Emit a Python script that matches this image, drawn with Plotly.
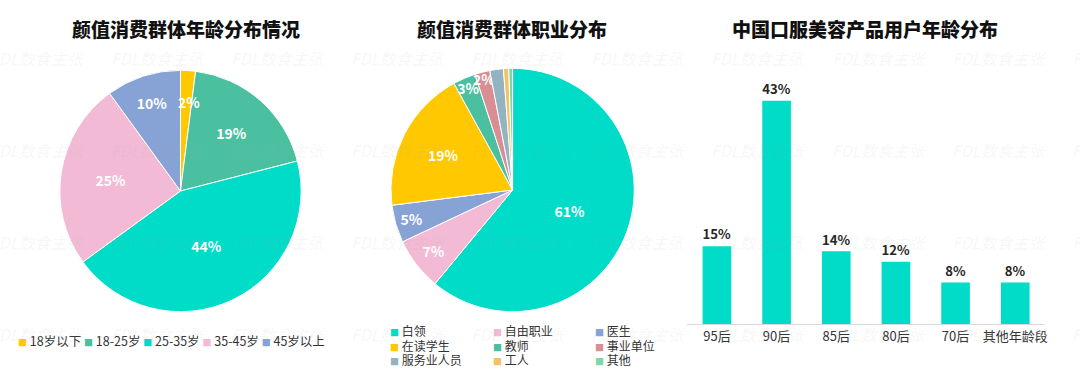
import math
import plotly.graph_objects as go

# ---------------- data ----------------
age_labels = ["18岁以下", "18-25岁", "25-35岁", "35-45岁", "45岁以上"]
age_values = [2, 19, 44, 25, 10]
age_colors = ["#FFC800", "#4BC0A0", "#00DCC8", "#F2BAD4", "#87A3D6"]

job_labels = ["白领", "自由职业", "医生", "在读学生", "教师", "事业单位", "服务业人员", "工人", "其他"]
job_values = [61, 7, 5, 19, 3, 2, 1.8, 0.7, 0.5]
job_colors = ["#00DCC8", "#F2BAD4", "#87A3D6", "#FFC800", "#4BC0A0", "#D98E94", "#93B3C3", "#F3C265", "#7FD6A8"]

user_cats = ["95后", "90后", "85后", "80后", "70后", "其他年龄段"]
user_values = [15, 43, 14, 12, 8, 8]
bar_color = "#00DCC8"

titles = ["颜值消费群体年龄分布情况", "颜值消费群体职业分布", "中国口服美容产品用户年龄分布"]
watermark = "FDL数食主张"

# ---------------- layout helpers ----------------
W, H = 1080, 377
FONT = "Noto Sans CJK SC"


def px(x):
    return x / W


def py(y):
    return 1 - y / H


fig = go.Figure()

# left pie (labels of very thin slices are placed as annotations further inside)
cx, cy, r = 181, 191, 121
age_text = [f"{v}%" if v >= 5 else "" for v in age_values]
fig.add_trace(go.Pie(
    labels=age_labels, values=age_values, sort=False, direction="clockwise", rotation=0,
    marker=dict(colors=age_colors, line=dict(color="white", width=1)),
    text=age_text, textinfo="text", textposition="inside", insidetextorientation="horizontal",
    textfont=dict(family=FONT, size=14, color="white", weight="bold"),
    domain=dict(x=[px(cx - r), px(cx + r)], y=[py(cy + r), py(cy - r)]),
    showlegend=False, hoverinfo="label+percent",
))

# middle pie
cx2, cy2, r2 = 514, 190, 122
job_text = [f"{v:.0f}%" if v >= 2 else "" for v in job_values]
fig.add_trace(go.Pie(
    labels=job_labels, values=job_values, sort=False, direction="clockwise", rotation=0,
    marker=dict(colors=job_colors, line=dict(color="white", width=1)),
    text=job_text, textinfo="text", textposition="inside", insidetextorientation="horizontal",
    textfont=dict(family=FONT, size=14, color="white", weight=600),
    domain=dict(x=[px(cx2 - r2), px(cx2 + r2)], y=[py(cy2 + r2), py(cy2 - r2)]),
    showlegend=False, hoverinfo="label+percent",
))

# bar chart
fig.add_trace(go.Bar(
    x=user_cats, y=user_values, marker=dict(color=bar_color, line=dict(width=0)),
    texttemplate="%{y}%", textposition="outside", cliponaxis=False,
    textfont=dict(family=FONT, size=14, color="#262626", weight="bold"),
    showlegend=False,
))

base_y = 324
unit = 5.19
ymax = 50
fig.update_layout(
    width=W, height=H, margin=dict(l=0, r=0, t=0, b=0),
    paper_bgcolor="white", plot_bgcolor="white",
    font=dict(family=FONT, color="#333333"),
    bargap=0.52,
    uniformtext=dict(minsize=13, mode="show"),
    xaxis=dict(domain=[px(689), px(1048)], showgrid=False, zeroline=False,
               showline=True, linecolor="#D9D9D9", linewidth=1, ticks="",
               tickfont=dict(family=FONT, size=13, color="#333333"), fixedrange=True),
    yaxis=dict(domain=[py(base_y), py(base_y - unit * ymax)], range=[0, ymax],
               visible=False, showgrid=False, zeroline=False, fixedrange=True),
)

annotations = []

# thin-slice labels of the left pie, placed at the slice's mid angle
total = sum(age_values)
cum = 0
for v in age_values:
    if v < 5:
        ang = math.radians((cum + v / 2) / total * 360)
        annotations.append(dict(text=f"{v}%", x=px(cx + 0.74 * r * math.sin(ang) + 3),
                                y=py(cy - 0.74 * r * math.cos(ang)), xref="paper", yref="paper",
                                xanchor="center", yanchor="middle", showarrow=False,
                                font=dict(family=FONT, size=14, color="white", weight="bold")))
    cum += v

# titles
for t, xc in zip(titles, [187, 513, 867]):
    annotations.append(dict(text=t, x=px(xc), y=py(28), xref="paper", yref="paper",
                            xanchor="center", yanchor="middle", showarrow=False,
                            font=dict(family=FONT, size=19, color="#111111", weight=900)))

# left legend (one row)
mk = "<span style='font-size:9px;color:{c}'>■</span>"
left_leg = " ".join(mk.format(c=c) + " " + l for l, c in zip(age_labels, age_colors))
annotations.append(dict(text=left_leg, x=px(16), y=py(340), xref="paper", yref="paper",
                        xanchor="left", yanchor="middle", showarrow=False,
                        font=dict(family=FONT, size=12.5, color="#333333")))

# middle legend (3 columns x 3 rows)
col_x = [389, 492, 595]
row_y = [330, 345, 359]
for i, (l, c) in enumerate(zip(job_labels, job_colors)):
    annotations.append(dict(text=mk.format(c=c) + " " + l, x=px(col_x[i % 3]), y=py(row_y[i // 3]),
                            xref="paper", yref="paper", xanchor="left", yanchor="middle",
                            showarrow=False, font=dict(family=FONT, size=12, color="#333333")))

# watermark grid
for row in range(4):
    for col in range(10):
        annotations.append(dict(text=watermark, x=px(38 + 120.5 * col), y=py(58 + 92 * row),
                                xref="paper", yref="paper", xanchor="center", yanchor="middle",
                                showarrow=False,
                                font=dict(family=FONT, size=16, color="rgba(170,170,170,0.10)",
                                          style="italic")))

fig.update_layout(annotations=annotations)
fig.write_html("out.html", config={"displayModeBar": False},
               post_script="document.body.style.margin='0';document.body.style.overflow='hidden';")
